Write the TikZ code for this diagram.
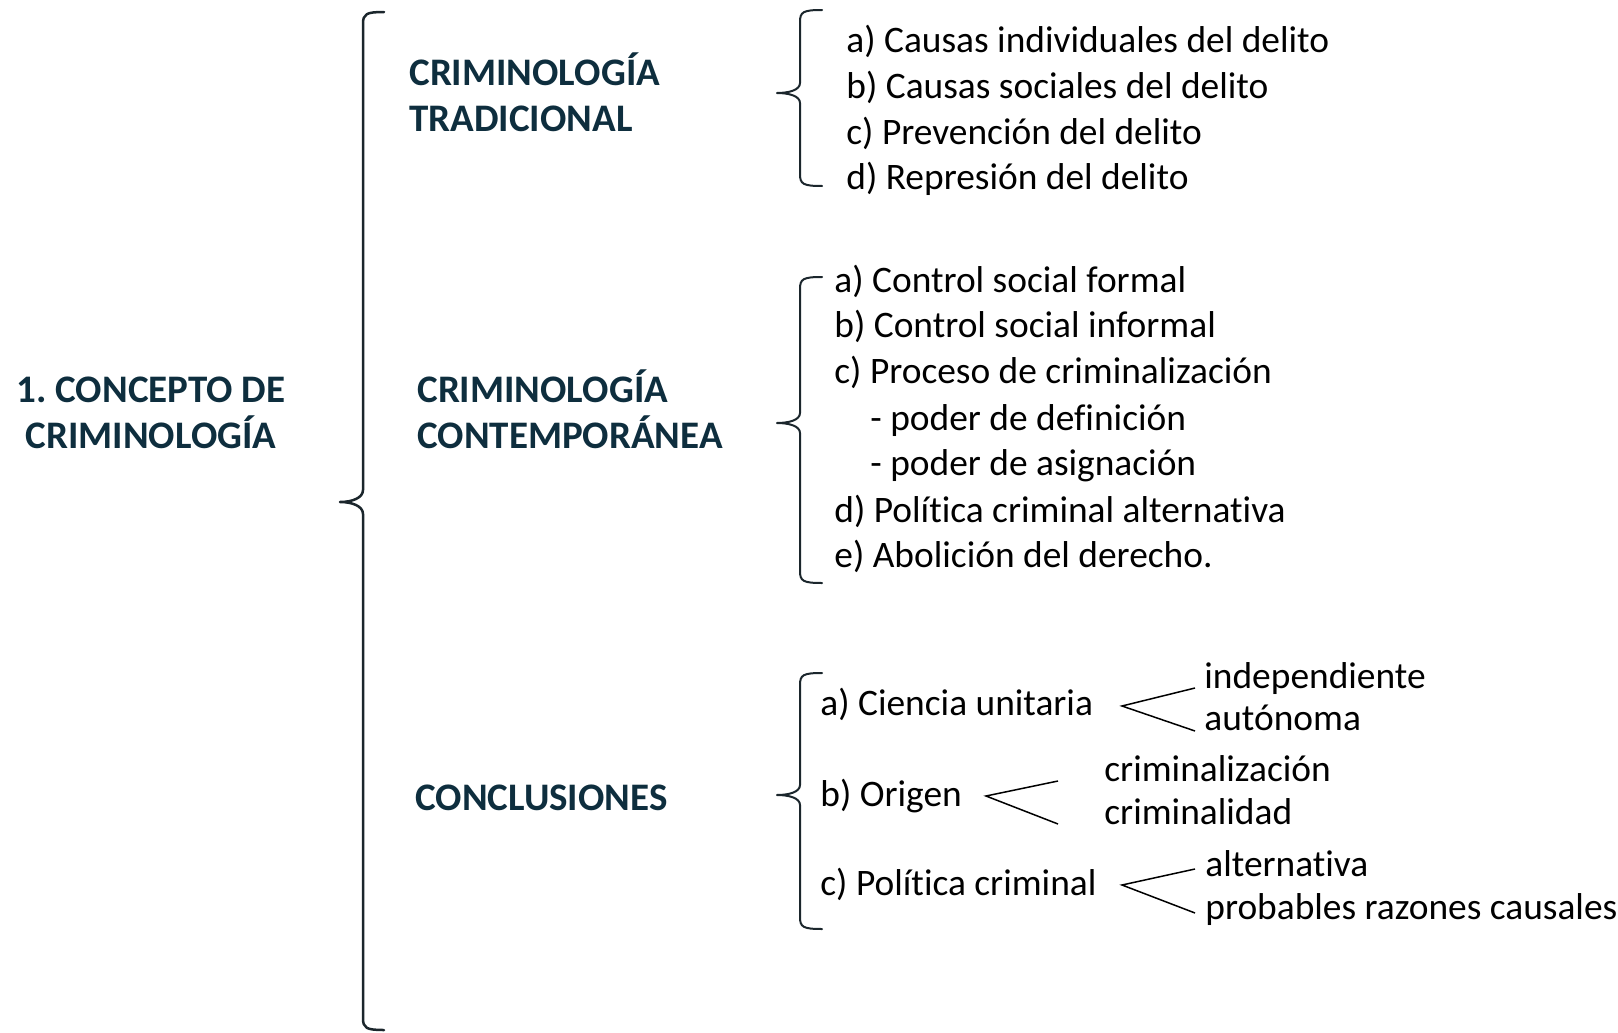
\documentclass[tikz,border=0pt]{standalone}
\usepackage{fontspec}
\setmainfont{Carlito}[Ligatures={NoCommon,NoContextual}]
\usetikzlibrary{positioning}
\definecolor{InkNavy}{HTML}{0E2E3E}
\definecolor{BraceInk}{HTML}{1B262C}
\frenchspacing

\begin{document}
\begin{tikzpicture}[x=0.5pt, y=-0.5pt,
    heading/.style={anchor=west, inner sep=0pt, align=left, text=InkNavy,
                    font=\fontsize{19.5}{23}\selectfont\bfseries},
    item/.style={anchor=west, inner sep=0pt, yshift=-3pt, text height=1.7ex, text depth=0.5ex,
                 font=\fontsize{18.7}{22}\selectfont},
    bracket/.style={draw=BraceInk, line width=1pt, line cap=round, line join=round},
    fork/.style={draw=black, line width=0.75pt}]
    \useasboundingbox (0,0) rectangle (1618,1033);

    % Title and main brace
    \node[heading, anchor=center, align=center] (title) at (151,413)
        {1. CONCEPTO DE\\CRIMINOLOGÍA};
    \draw[bracket, line width=1.25pt] (384,12) .. controls (366,12) and (363,14) .. (363,24)
        -- (363,490) .. controls (363,498) and (352,502) .. (340,502)
        .. controls (352,502) and (363,506) .. (363,514)
        -- (363,1018) .. controls (363,1028) and (366,1030) .. (384,1030);

    % Headings
    \node[heading] (trad) at (409,92) {CRIMINOLOGÍA\\TRADICIONAL};
    \node[heading] (cont) at (417,409) {CRIMINOLOGÍA\\CONTEMPORÁNEA};
    \node[heading] (conc) at (415,798) {CONCLUSIONES};

    % Traditional
    \draw[bracket] (822,10) .. controls (803,10) and (800,12) .. (800,22)
        -- (800,83) .. controls (800,90) and (789,93) .. (777,93)
        .. controls (789,93) and (800,96) .. (800,103)
        -- (800,174) .. controls (800,184) and (803,186) .. (822,186);
    \node[item] (trad1) at (846,41) {a) Causas individuales del delito};
    \node[item] (trad2) at (846,87) {b) Causas sociales del delito};
    \node[item] (trad3) at (846,133) {c) Prevención del delito};
    \node[item] (trad4) at (846,178) {d) Represión del delito};

    % Contemporary
    \draw[bracket] (822,277) .. controls (803,277) and (800,279) .. (800,289)
        -- (800,413) .. controls (800,420) and (789,423) .. (777,423)
        .. controls (789,423) and (800,426) .. (800,433)
        -- (800,571) .. controls (800,581) and (803,583) .. (822,583);
    \node[item] (cont1) at (834,281) {a) Control social formal};
    \node[item] (cont2) at (834,326) {b) Control social informal};
    \node[item] (cont3) at (834,372) {c) Proceso de criminalización};
    \node[item] (cont3a) at (870,419) {- poder de definición};
    \node[item] (cont3b) at (870,464) {- poder de asignación};
    \node[item] (cont4) at (834,511) {d) Política criminal alternativa};
    \node[item] (cont5) at (834,556) {e) Abolición del derecho.};

    % Conclusions
    \draw[bracket] (822,673) .. controls (803,673) and (800,675) .. (800,685)
        -- (800,785) .. controls (800,792) and (789,795) .. (777,795)
        .. controls (789,795) and (800,798) .. (800,805)
        -- (800,917) .. controls (800,927) and (803,929) .. (822,929);
    \node[item] (ciencia) at (820,704) {a) Ciencia unitaria};
    \node[item] (origen) at (820,795) {b) Origen};
    \node[item] (politica) at (820,884) {c) Política criminal};

    \node[item] (indep) at (1204,677) {independiente};
    \node[item] (auton) at (1204,719) {autónoma};
    \node[item] (crimz) at (1104,770) {criminalización};
    \node[item] (crimd) at (1104,813) {criminalidad};
    \node[item] (alter) at (1205,865) {alternativa};
    \node[item] (razon) at (1205,908) {probables razones causales};

    \coordinate (forkA) at (1122,706);
    \coordinate (forkB) at (986,796);
    \coordinate (forkC) at (1122,885);
    \draw[fork] ([xshift=-4.5pt, yshift=-2.5pt]indep.west) -- (forkA)
        -- ([xshift=-4.5pt, yshift=-3pt]auton.west);
    \draw[fork] ([xshift=-23pt, yshift=-2.5pt]crimz.west) -- (forkB)
        -- ([xshift=-23pt, yshift=-2.5pt]crimd.west);
    \draw[fork] ([xshift=-5pt, yshift=1pt]alter.west) -- (forkC)
        -- ([xshift=-5pt, yshift=0.5pt]razon.west);
\end{tikzpicture}
\end{document}
